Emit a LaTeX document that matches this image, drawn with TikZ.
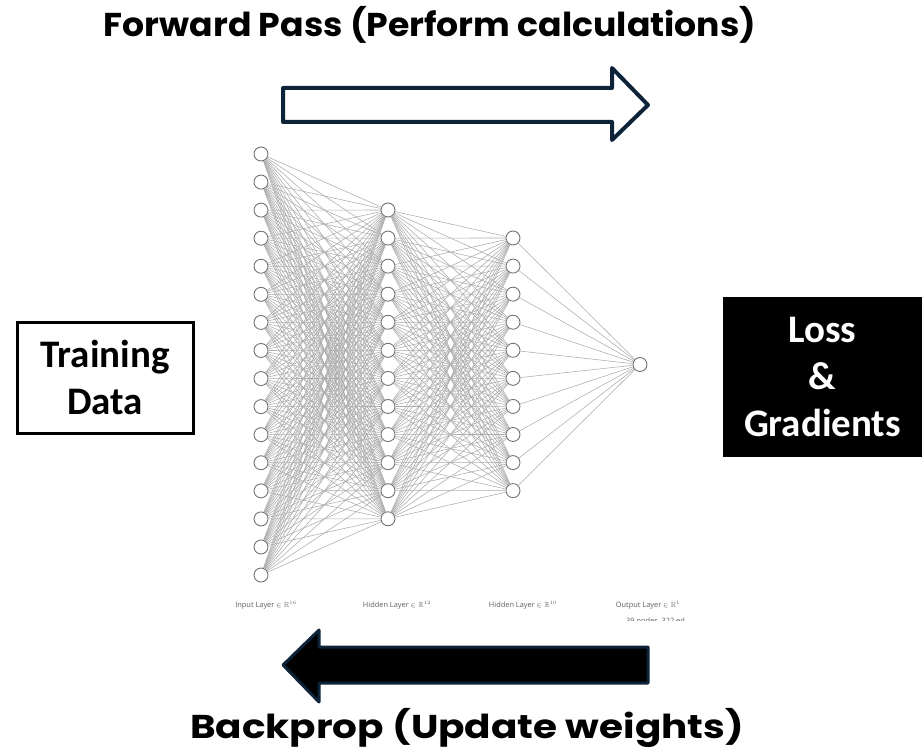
\documentclass[tikz,border=0pt]{standalone}
\usepackage{fontspec}
\usepackage{amssymb}
\newfontfamily\titlefont{Poppins Bold}
\newfontfamily\boxfont{Carlito}
\newfontfamily\labelfont{Open Sans}
\definecolor{navy}{RGB}{12,35,56}
\definecolor{edgegray}{RGB}{172,172,172}
\definecolor{ringgray}{RGB}{115,115,115}
\definecolor{labelgray}{RGB}{95,95,95}
\begin{document}
\begin{tikzpicture}[x=1pt,y=-1pt,
  neuron/.style={circle,draw=ringgray,fill=white,line width=0.9pt,minimum size=14pt,inner sep=0pt},
  synapse/.style={draw=edgegray,line width=0.55pt},
  layerlabel/.style={font=\labelfont\fontsize{7.4}{8}\selectfont,text=labelgray,inner sep=0pt},
  title/.style={font=\titlefont\fontsize{33}{37}\selectfont,inner sep=0pt,anchor=base},
  boxtext/.style={font=\boxfont\bfseries\fontsize{39}{47}\selectfont,align=center,inner sep=0pt},
  bigarrow/.style={draw=navy,line width=4pt,line join=round}]
\useasboundingbox (0,0) rectangle (922,752);

% neurons of the four layers
\foreach \k in {1,...,16}{\node[neuron] (i\k) at (261,{154+28.07*(\k-1)}) {};}
\foreach \k in {1,...,12}{\node[neuron] (a\k) at (388,{210+28.07*(\k-1)}) {};}
\foreach \k in {1,...,10}{\node[neuron] (b\k) at (513,{238+28.07*(\k-1)}) {};}
\node[neuron] (o) at (640,364.5) {};

% fully connected weights
\foreach \p in {1,...,16}{\foreach \q in {1,...,12}{\draw[synapse] (i\p) -- (a\q);}}
\foreach \p in {1,...,12}{\foreach \q in {1,...,10}{\draw[synapse] (a\p) -- (b\q);}}
\foreach \p in {1,...,10}{\draw[synapse] (b\p) -- (o);}

% layer captions
\node[layerlabel] (li) at (266,605) {Input Layer \(\in\mathbb{R}^{16}\)};
\node[layerlabel] (la) at (397,605) {Hidden Layer \(\in\mathbb{R}^{12}\)};
\node[layerlabel] (lb) at (523,605) {Hidden Layer \(\in\mathbb{R}^{10}\)};
\node[layerlabel] (lo) at (648,605) {Output Layer \(\in\mathbb{R}^{1}\)};
\begin{scope}
\clip (600,612) rectangle (684,620.5);
\node[layerlabel,anchor=west] (cnt) at (626,621.5) {39 nodes, 322 edges};
\end{scope}

% side boxes
\node[draw=black,line width=3pt,minimum width=176pt,minimum height=111pt,inner sep=0pt] (train) at (105,377.5) {};
\node[boxtext] (traintext) at (train.center) {Training\\Data};
\node[fill=black,minimum width=199pt,minimum height=160pt,inner sep=0pt] (loss) at (822.5,377) {};
\node[boxtext,text=white] (losstext) at (loss.center) {Loss\\\&\\Gradients};

% forward and backward arrows
\draw[bigarrow,fill=white] (283,88) -- (612,88) -- (612,68) -- (648,105) -- (612,140) -- (612,122) -- (283,122) -- cycle;
\draw[bigarrow,line width=3pt,fill=black] (648,647) -- (319,647) -- (319,630) -- (283,665) -- (319,702) -- (319,683) -- (648,683) -- cycle;

% captions
\node[title] (fwd) at (430,37) {\scalebox{1.05}[1]{Forward Pass (Perform calculations)}};
\node[title] (bwd) at (467,738) {\scalebox{1.18}[1]{Backprop (Update weights)}};
\end{tikzpicture}
\end{document}
